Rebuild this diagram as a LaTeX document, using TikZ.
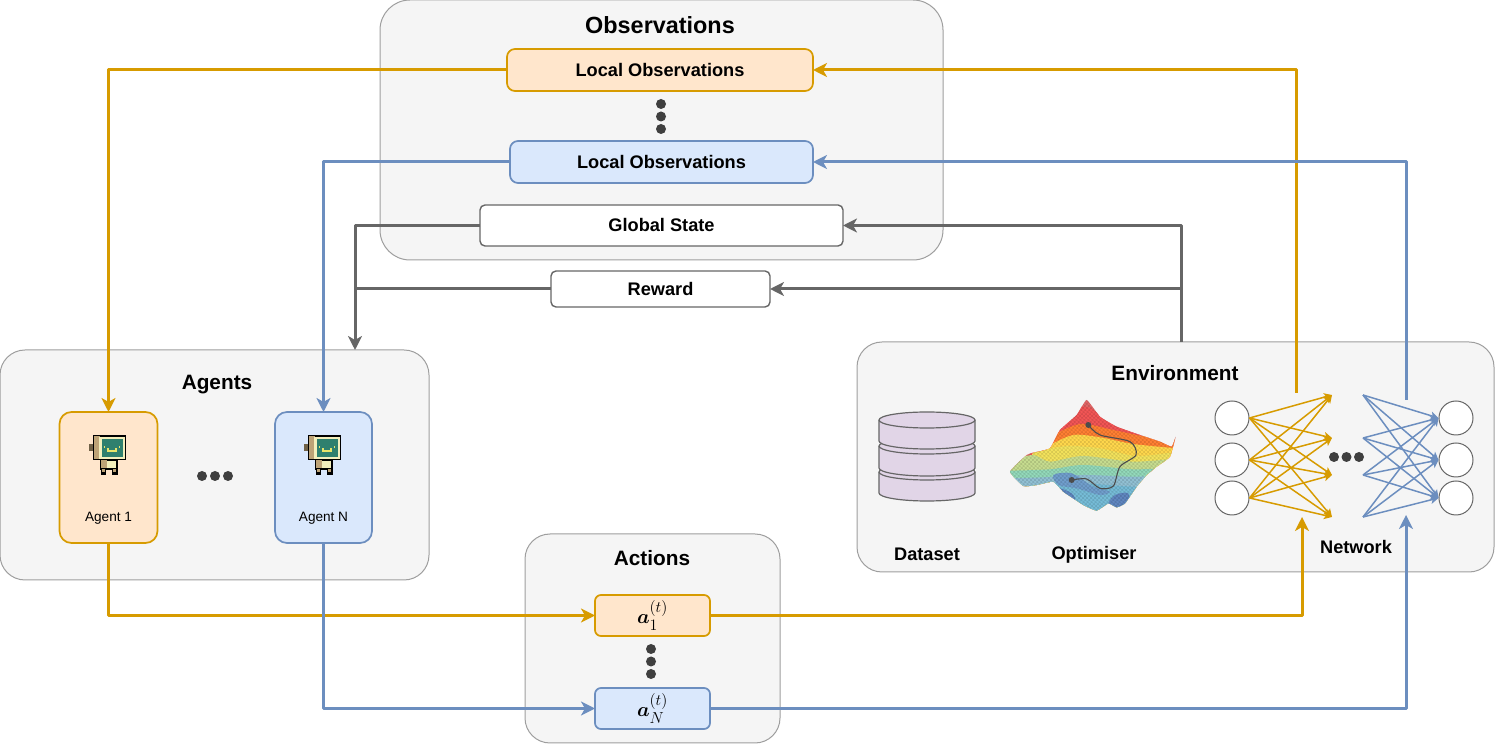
\documentclass[tikz,border=0pt]{standalone}
\usepackage{fix-cm}
\usepackage{amsmath}
\usepackage{fontspec}
\setmainfont{Liberation Sans}
\usetikzlibrary{arrows.meta}
\DeclareMathSizes{20}{20}{16}{12}
\definecolor{orangeline}{HTML}{D79B00}
\definecolor{orangefill}{HTML}{FFE6CC}
\definecolor{blueline}{HTML}{6C8EBF}
\definecolor{bluefill}{HTML}{DAE8FC}
\definecolor{greyline}{HTML}{666666}
\definecolor{groupfill}{HTML}{F5F5F5}
\definecolor{dotfill}{HTML}{3F3F3F}
\definecolor{datafill}{HTML}{E1D5E7}
\definecolor{robotscreen}{HTML}{2F806E}
\definecolor{robotcream}{HTML}{F3EFBC}
\definecolor{robottan}{HTML}{BDA377}
\definecolor{robotface}{HTML}{E8E46A}
\tikzset{
  box/.style={rectangle,draw,rounded corners=8bp,inner sep=0pt,outer sep=0pt,line width=1.4bp},
  group/.style={box,draw=black!38,fill=groupfill,line width=1bp},
  orangebox/.style={box,draw=orangeline,fill=orangefill,line width=1.7bp},
  bluebox/.style={box,draw=blueline,fill=bluefill,line width=1.7bp},
  whitebox/.style={box,rounded corners=5bp,draw=greyline,fill=white},
  title/.style={inner sep=0pt,font=\fontsize{20.8bp}{24bp}\selectfont\bfseries},
  label/.style={inner sep=0pt,font=\fontsize{18.2bp}{22bp}\selectfont\bfseries},
  small/.style={inner sep=0pt,font=\fontsize{13.6bp}{16bp}\selectfont},
  act/.style={inner sep=0pt,font=\fontsize{20}{24}\selectfont},
  dot/.style={circle,fill=dotfill,inner sep=0pt,minimum size=10bp},
  unit/.style={circle,draw=greyline,fill=white,line width=1bp,inner sep=0pt,minimum size=34bp},
  link/.style={line width=3bp,-{Stealth[length=14bp,width=14bp,inset=4bp]}},
  plain/.style={line width=3bp},
  wire/.style={line width=1.5bp,-{Stealth[length=8bp,width=8bp,inset=2bp]}},
  robot/.pic={
    \begin{scope}[x=.3333bp,y=-.3333bp]
      \fill[black] (38,30) rectangle (138,105);
      \fill[black] (60,105) rectangle (115,135);
      \fill[black] (62,132) rectangle (78,150);
      \fill[black] (97,132) rectangle (113,150);
      \fill[robottan!60!black] (28,57) rectangle (40,79);
      \fill[robottan] (41,34) rectangle (60,102);
      \fill[robotcream] (58,35) rectangle (134,101);
      \fill[robotscreen] (65,42) rectangle (128,95);
      \fill[robotface] (82,68) rectangle (88,80);
      \fill[robotface] (105,68) rectangle (110,80);
      \fill[robotface] (82,75) rectangle (110,81);
      \fill[robotface] (71,64) rectangle (76,69);
      \fill[robotface] (116,64) rectangle (121,69);
      \fill[robottan] (64,105) rectangle (80,130);
      \fill[robotcream] (80,108) rectangle (108,130);
      \fill[robottan] (66,132) rectangle (75,141);
      \fill[robottan] (100,132) rectangle (109,141);
    \end{scope}
  },
}
\begin{document}
\begin{tikzpicture}[>=latex,line join=bevel,]
%%
\useasboundingbox (0bp,0bp) rectangle (1495bp,745bp);
  \node (obs) at (661.5bp,615bp) [group,rounded corners=30bp,minimum width=563bp,minimum height=260bp] {};
  \node (agents) at (214.5bp,280bp) [group,rounded corners=25bp,minimum width=429bp,minimum height=230bp] {};
  \node (env) at (1175.5bp,288bp) [group,rounded corners=25bp,minimum width=637bp,minimum height=230bp] {};
  \node (actions) at (652.5bp,106.5bp) [group,rounded corners=25bp,minimum width=255bp,minimum height=209bp] {};
%
  \node (obstitle) at (660bp,720bp) [title,font=\fontsize{23.4bp}{26bp}\selectfont\bfseries] {Observations};
  \node (agentstitle) at (217bp,360bp) [title] {Agents};
  \node (envtitle) at (1175bp,372bp) [title] {Environment};
  \node (actionstitle) at (652bp,187bp) [title] {Actions};
%
  \node (locA) at (660bp,675bp) [orangebox,minimum width=306bp,minimum height=42bp,label] {Local Observations};
  \node (locN) at (661.5bp,583bp) [bluebox,minimum width=303bp,minimum height=42bp,label] {Local Observations};
  \node (gstate) at (661.5bp,519.5bp) [whitebox,minimum width=363bp,minimum height=41bp,label] {Global State};
  \node (reward) at (660.5bp,456bp) [whitebox,minimum width=219bp,minimum height=36bp,label] {Reward};
  \node (obsdot1) at (661bp,641bp) [dot] {};
  \node (obsdot2) at (661bp,628.5bp) [dot] {};
  \node (obsdot3) at (661bp,616bp) [dot] {};
%
  \node (agentA) at (108.5bp,267.5bp) [orangebox,rounded corners=12bp,minimum width=98bp,minimum height=131bp] {};
  \node (agentN) at (323.5bp,267.5bp) [bluebox,rounded corners=12bp,minimum width=97bp,minimum height=131bp] {};
  \node (agentAtext) at (108.5bp,226.5bp) [small] {Agent 1};
  \node (agentNtext) at (323.5bp,226.5bp) [small] {Agent N};
  \pic at (80bp,320bp) {robot};
  \pic at (295bp,320bp) {robot};
  \node (agdot1) at (202bp,269bp) [dot] {};
  \node (agdot2) at (215bp,269bp) [dot] {};
  \node (agdot3) at (228bp,269bp) [dot] {};
%
  \node (aA) at (652.5bp,129.5bp) [orangebox,rounded corners=6bp,minimum width=115bp,minimum height=41bp,act] {$\boldsymbol{a}_{1}^{(t)}$};
  \node (aN) at (652.5bp,36.5bp) [bluebox,rounded corners=6bp,minimum width=115bp,minimum height=41bp,act] {$\boldsymbol{a}_{N}^{(t)}$};
  \node (acdot1) at (651bp,96bp) [dot] {};
  \node (acdot2) at (651bp,83.5bp) [dot] {};
  \node (acdot3) at (651bp,71bp) [dot] {};
%
  \node (datatext) at (927bp,191bp) [label] {Dataset};
  \node (opttext) at (1094bp,190bp) [label] {Optimiser};
  \node (nettext) at (1356bp,198bp) [label] {Network};
%
% dataset
  \foreach \top/\bot in {273/252,299/277,325/304} {
    \draw [draw=greyline,fill=datafill,line width=1.2bp] (879bp,\top bp) -- (879bp,\bot bp)
      arc [start angle=180,end angle=360,x radius=48bp,y radius=8bp] -- (975bp,\top bp)
      arc [start angle=0,end angle=180,x radius=48bp,y radius=8bp] -- cycle;
    \draw [draw=greyline,line width=1.2bp] (879bp,\top bp) arc [start angle=180,end angle=360,x radius=48bp,y radius=8bp];
  }
%
% optimiser surface
  \begin{scope}[shift={(1000bp,365bp)},x=.3333bp,y=-.3333bp]
    \begin{scope}
      \clip plot [smooth cycle,tension=.25] coordinates {(260,60) (300,110) (350,140) (420,165) (480,185) (515,200) (527,170) (510,230) (470,260) (440,285) (410,320) (375,370) (350,382) (325,370) (290,392) (250,375) (215,352) (190,335) (160,305) (110,315) (70,318) (30,275) (80,225) (100,218) (150,205) (180,150) (230,105)};
      \fill [black!20!red!60!white] (0,0) rectangle (560,450);
      \fill [red!65!white!95!black] plot [smooth] coordinates {(150,80) (255,80) (300,100) (400,120)} -- (560,450) -- (0,450) -- cycle;
      \fill [orange!75!red!80!white] plot [smooth] coordinates {(150,170) (240,132) (340,150) (440,170) (530,175)} -- (560,450) -- (0,450) -- cycle;
      \fill [orange!45!yellow!70!white] plot [smooth] coordinates {(150,195) (220,165) (300,172) (400,192) (530,205)} -- (560,450) -- (0,450) -- cycle;
      \fill [yellow!85!orange!65!white!95!black] plot [smooth] coordinates {(100,215) (200,198) (300,205) (410,228) (530,215)} -- (560,450) -- (0,450) -- cycle;
      \fill [yellow!60!green!45!white!92!black] plot [smooth] coordinates {(30,240) (100,225) (150,245) (250,228) (400,245) (530,235)} -- (560,450) -- (0,450) -- cycle;
      \fill [green!45!cyan!32!white!85!black] plot [smooth] coordinates {(30,272) (150,268) (250,255) (400,268) (530,262)} -- (560,450) -- (0,450) -- cycle;
      \fill [cyan!40!white!82!black] plot [smooth] coordinates {(30,295) (130,292) (250,285) (400,290) (530,285)} -- (560,450) -- (0,450) -- cycle;
      \fill [cyan!55!white!85!black] plot [smooth] coordinates {(130,310) (250,310) (400,320) (530,320)} -- (560,450) -- (0,450) -- cycle;
      \fill [blue!50!cyan!45!white!80!black] plot [smooth cycle] coordinates {(160,285) (215,280) (280,320) (330,335) (300,345) (230,325) (175,315)};
      \fill [blue!60!cyan!50!white!75!black] plot [smooth cycle] coordinates {(325,372) (345,345) (385,340) (385,385) (350,390)};
      \fill [blue!60!cyan!50!white!75!black] plot [smooth cycle] coordinates {(180,325) (215,340) (225,360) (190,350)};
      \foreach \k in {-600,-588,...,600} {
        \draw [black,opacity=.16,line width=.3bp] (\k,0) -- (\k+500,450);
        \draw [black,opacity=.16,line width=.3bp] (\k+300,0) -- (\k-100,450);
      }
    \end{scope}
    \draw [black!70,line width=1.1bp] plot [smooth] coordinates {(265,135) (300,165) (390,185) (408,225) (360,260) (340,318) (300,325) (260,297) (215,300)};
    \fill [black!70] (265,135) circle (9);
    \fill [black!70] (215,300) circle (9);
  \end{scope}
%
% network
  \coordinate (tgt1) at (1332bp,350bp);
  \coordinate (tgt2) at (1332bp,307bp);
  \coordinate (tgt3) at (1332bp,270bp);
  \coordinate (tgt4) at (1332bp,228bp);
  \coordinate (src1) at (1363bp,350bp);
  \coordinate (src2) at (1363bp,307bp);
  \coordinate (src3) at (1363bp,270bp);
  \coordinate (src4) at (1363bp,228bp);
  \node (inp1) at (1232bp,327bp) [unit] {};
  \node (inp2) at (1232bp,285bp) [unit] {};
  \node (inp3) at (1232bp,247bp) [unit] {};
  \node (out1) at (1456bp,327bp) [unit] {};
  \node (out2) at (1456bp,285bp) [unit] {};
  \node (out3) at (1456bp,247bp) [unit] {};
  \foreach \i in {1,2,3} {
    \foreach \j in {1,2,3,4} {
      \draw [orangeline,wire] (inp\i.east) -- (tgt\j);
      \draw [blueline,wire] (src\j) -- (out\i.west);
    }
  }
  \node (netdot1) at (1334bp,288bp) [dot] {};
  \node (netdot2) at (1346.5bp,288bp) [dot] {};
  \node (netdot3) at (1359bp,288bp) [dot] {};
%
% connectors
  \coordinate (agentsin) at (355bp,395bp);
  \coordinate (envout) at (1181bp,403bp);
  \coordinate (netoutA) at (1296bp,352bp);
  \coordinate (netoutN) at (1406bp,345bp);
  \coordinate (netinA) at (1302bp,228bp);
  \coordinate (netinN) at (1406bp,230bp);
  \draw [orangeline,link] (locA.west) -| (agentA.north);
  \draw [blueline,link] (locN.west) -| (agentN.north);
  \draw [greyline,link] (gstate.west) -| (agentsin);
  \draw [greyline,plain] (reward.west) -- (agentsin |- reward.west);
  \draw [greyline,link] (envout) |- (gstate.east);
  \draw [greyline,link] (envout |- reward.east) -- (reward.east);
  \draw [orangeline,link] (netoutA) |- (locA.east);
  \draw [blueline,link] (netoutN) |- (locN.east);
  \draw [orangeline,link] (agentA.south) |- (aA.west);
  \draw [blueline,link] (agentN.south) |- (aN.west);
  \draw [orangeline,link] (aA.east) -| (netinA);
  \draw [blueline,link] (aN.east) -| (netinN);
%
\end{tikzpicture}
\end{document}
